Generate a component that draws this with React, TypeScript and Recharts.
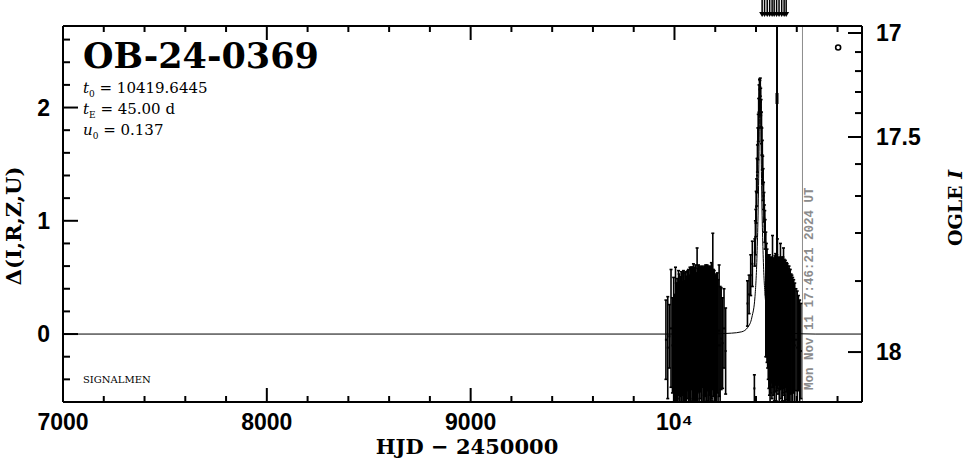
import React from 'react';
import { ComposedChart, XAxis, YAxis, Scatter, Line, ErrorBar, ReferenceLine } from 'recharts';

const W = 966;
const H = 459;
const MARGIN = { top: 25, right: 103, bottom: 56, left: 62 };
const X_DOMAIN: [number, number] = [7000, 10920];
const Y_DOMAIN: [number, number] = [-0.6, 2.72];

// ticks
const xTicks = [7000, 7200, 7400, 7600, 7800, 8000, 8200, 8400, 8600, 8800, 9000, 9200, 9400, 9600, 9800, 10000, 10200, 10400, 10600, 10800];
const xMajor = [7000, 8000, 9000, 10000];
const xLabels = ['7000', '8000', '9000', '10⁴'];
const yTicks = [-0.4, -0.2, 0, 0.2, 0.4, 0.6, 0.8, 1, 1.2, 1.4, 1.6, 1.8, 2, 2.2, 2.4, 2.6];
const yMajor = [0, 1, 2];
const yLabels = ['0', '1', '2'];
const magValues = [17, 17.1, 17.2, 17.3, 17.4, 17.5, 17.6, 17.7, 17.8, 17.9, 18];
const magTickPos = [2.658, 2.49, 2.322, 2.137, 1.951, 1.74, 1.501, 1.219, 0.892, 0.468, -0.159];
const magMajor = [17, 17.5, 18];
const magLabels = ['17', '17.5', '18'];

// 2023 season
const s1T = [9958, 9967, 9975, 9983, 9990, 9996, 10001, 10005, 10009, 10013,
  10016, 10020, 10023, 10027, 10030, 10034, 10037, 10041, 10044, 10048,
  10051, 10055, 10058, 10062, 10065, 10069, 10072, 10076, 10079, 10083,
  10086, 10090, 10093, 10097, 10100, 10104, 10107, 10111, 10114, 10118,
  10121, 10125, 10128, 10132, 10135, 10139, 10142, 10146, 10149, 10153,
  10156, 10160, 10163, 10167, 10170, 10174, 10177, 10181, 10184, 10188,
  10191, 10195, 10198, 10202, 10206, 10210, 10214, 10219, 10224, 10229,
  10236, 10243, 10251];
const s1D = [-0.05, -0.12, -0.02, 0.05, -0.10, -0.05, -0.15, -0.01, -0.11, -0.04,
  -0.13, 0.01, -0.07, -0.12, -0.02, -0.05, -0.10, 0.00, -0.06, -0.11,
  0.02, -0.03, -0.09, -0.01, 0.03, -0.04, -0.12, 0.01, -0.02, 0.05,
  -0.05, 0.00, 0.02, -0.03, 0.03, -0.01, -0.09, 0.12, -0.02, 0.05,
  -0.04, 0.01, 0.04, -0.03, 0.00, 0.06, -0.05, 0.02, -0.01, 0.03,
  -0.04, 0.01, 0.05, -0.02, 0.02, 0.00, -0.03, 0.03, -0.01, 0.20,
  0.01, -0.04, -0.09, -0.02, -0.07, 0.01, -0.10, 0.03, -0.10, -0.04,
  -0.08, 0.05, -0.15];
const s1E = [0.35, 0.45, 0.28, 0.52, 0.42, 0.55, 0.50, 0.60, 0.56, 0.53,
  0.58, 0.55, 0.60, 0.58, 0.53, 0.60, 0.56, 0.54, 0.62, 0.58,
  0.52, 0.58, 0.60, 0.56, 0.53, 0.61, 0.64, 0.58, 0.60, 0.54,
  0.64, 0.59, 0.60, 0.61, 0.56, 0.62, 0.63, 0.64, 0.60, 0.56,
  0.64, 0.58, 0.55, 0.62, 0.60, 0.53, 0.64, 0.56, 0.61, 0.58,
  0.63, 0.60, 0.55, 0.61, 0.56, 0.60, 0.62, 0.60, 0.58, 0.69,
  0.56, 0.60, 0.58, 0.54, 0.60, 0.53, 0.58, 0.58, 0.52, 0.45,
  0.40, 0.35, 0.38];

// 2024 season (rise, peak and decline)
const s2T = [10358, 10366, 10374, 10382, 10392,
  10394, 10397, 10399, 10401, 10403, 10405, 10407, 10409, 10411, 10413,
  10415, 10417, 10419, 10421, 10423, 10425, 10427, 10429, 10431, 10433,
  10435, 10437, 10439, 10441, 10443, 10445,
  10448, 10451, 10454, 10457, 10460, 10463, 10466, 10469, 10472, 10475,
  10478, 10481, 10484, 10487, 10490, 10493, 10496, 10499, 10502, 10505,
  10508, 10511, 10514, 10517, 10520, 10523, 10526, 10529, 10532, 10535,
  10538, 10541, 10544, 10547, 10550, 10553, 10556, 10559, 10562, 10565,
  10568, 10572, 10576, 10580, 10585, 10590, 10596, 10602, 10608, 10614, 10620];
const s2D = [0.27, 0.35, 0.52, 0.62, -0.48,
  0.72, 0.85, 0.98, 1.12, 1.25, 1.40, 1.55, 1.68, 1.82, 1.95,
  2.08, 2.16, 2.12, 2.18, 2.05, 1.95, 1.82, 1.70, 1.58, 1.45,
  1.32, 1.22, 1.12, 1.02, 0.95, 0.88,
  0.35, 0.30, 0.25, 0.20, 0.15, 0.10, 0.08, 0.03, 0.08, 0.12,
  0.05, 0.20, 0.06, 0.10, 0.04, 0.09, 0.13, 0.05, 0.10, 0.18,
  0.07, 0.11, 0.03, 0.09, 0.16, 0.05, 0.10, 0.04, 0.08, 0.14,
  0.06, 0.03, 0.09, 0.02, 0.06, 0.00, 0.05, -0.02, 0.04, -0.03,
  0.02, -0.05, 0.00, -0.06, -0.02, -0.10, -0.05, -0.12, -0.08, -0.20, -0.15];
const s2E = [0.20, 0.17, 0.18, 0.20, 0.12,
  0.12, 0.15, 0.12, 0.14, 0.12, 0.15, 0.12, 0.14, 0.12, 0.13,
  0.12, 0.09, 0.12, 0.08, 0.12, 0.12, 0.14, 0.12, 0.13, 0.12,
  0.14, 0.12, 0.13, 0.12, 0.14, 0.13,
  0.55, 0.50, 0.50, 0.50, 0.55, 0.58, 0.62, 0.64, 0.60, 0.55,
  0.62, 0.67, 0.60, 0.57, 0.63, 0.60, 0.58, 0.64, 0.60, 0.66,
  0.60, 0.56, 0.65, 0.58, 0.64, 0.62, 0.58, 0.63, 0.60, 0.62,
  0.60, 0.62, 0.56, 0.60, 0.57, 0.62, 0.55, 0.60, 0.56, 0.60,
  0.55, 0.58, 0.52, 0.56, 0.50, 0.55, 0.45, 0.50, 0.42, 0.50, 0.42];

// outlier with a very large error bar
const bigT = [10503];
const bigD = [2.08];
const bigE = [1.45];

// off-scale points (arrows above the frame)
const arrowT = [10430, 10442, 10455, 10467, 10479, 10489, 10501, 10513, 10526, 10538, 10548];
const arrowD = [2.72, 2.72, 2.72, 2.72, 2.72, 2.72, 2.72, 2.72, 2.72, 2.72, 2.72];

// OGLE marker
const markT = [10803];
const markD = [2.53];

// model light curve
const modelT = [7000, 10150, 10280, 10330, 10360, 10380, 10395, 10405, 10410, 10414, 10417, 10420,
  10423, 10426, 10430, 10435, 10445, 10460, 10480, 10510, 10560, 10690, 10920];
const modelD = [0, 0, 0.008, 0.02, 0.06, 0.15, 0.33, 0.7, 1.05, 1.5, 1.95, 2.2,
  1.95, 1.5, 1.05, 0.7, 0.33, 0.15, 0.06, 0.02, 0.008, 0, 0];

const nowHJD = 10628;

const season1 = s1T.map((t, i) => ({ t, d: s1D[i], e: s1E[i] }));
const season2 = s2T.map((t, i) => ({ t, d: s2D[i], e: s2E[i] }));
const bigPts = bigT.map((t, i) => ({ t, d: bigD[i], e: bigE[i] }));
const arrows = arrowT.map((t, i) => ({ t, d: arrowD[i] }));
const marks = markT.map((t, i) => ({ t, d: markD[i] }));
const model = modelT.map((t, i) => ({ t, d: modelD[i] }));

const AXIS_LINE = { stroke: '#000', strokeWidth: 2 };
const TICK_FONT = { fontFamily: 'Liberation Sans, Arial, sans-serif', fontWeight: 'bold' as const, fontSize: 23, fill: '#000' };
const SERIF = 'DejaVu Serif, serif';
const CLIP = 'url(#plotAreaClip)';

const isMajor = (list: number[], v: number) => list.findIndex((m) => Math.abs(m - v) < 1e-6);

const XTickBottom = (p: any) => {
  const v = p.payload.value;
  const i = isMajor(xMajor, v);
  return (
    <g>
      <line x1={p.x} x2={p.x} y1={p.y} y2={p.y - (i >= 0 ? 14 : 6)} stroke="#000" strokeWidth={2} />
      {i >= 0 && (
        <text x={p.x} y={p.y + 28} textAnchor="middle" {...TICK_FONT}>{xLabels[i]}</text>
      )}
    </g>
  );
};

const XTickTop = (p: any) => {
  const v = p.payload.value;
  const i = isMajor(xMajor, v);
  return <line x1={p.x} x2={p.x} y1={p.y} y2={p.y + (i >= 0 ? 14 : 6)} stroke="#000" strokeWidth={2} />;
};

const YTickLeft = (p: any) => {
  const v = p.payload.value;
  const i = isMajor(yMajor, v);
  return (
    <g>
      <line x1={p.x} x2={p.x + (i >= 0 ? 15 : 7)} y1={p.y} y2={p.y} stroke="#000" strokeWidth={2} />
      {i >= 0 && (
        <text x={p.x - 13} y={p.y + 8} textAnchor="end" {...TICK_FONT}>{yLabels[i]}</text>
      )}
    </g>
  );
};

const YTickRight = (p: any) => {
  const v = p.payload.value;
  const k = isMajor(magTickPos, v);
  const mag = k >= 0 ? magValues[k] : NaN;
  const i = isMajor(magMajor, mag);
  return (
    <g>
      <line x1={p.x} x2={p.x - (i >= 0 ? 14 : 7)} y1={p.y} y2={p.y} stroke="#000" strokeWidth={2} />
      {i >= 0 && (
        <text x={p.x + 14} y={p.y + 8} textAnchor="start" {...TICK_FONT}>{magLabels[i]}</text>
      )}
    </g>
  );
};

const DotShape = (p: any) => <rect x={p.cx - 1} y={p.cy - 1} width={2} height={2} fill="#000" />;
const BigShape = (p: any) => <rect x={p.cx - 1.5} y={p.cy - 5.5} width={3} height={11} fill="#000" />;
const ArrowShape = (p: any) => (
  <g>
    <line x1={p.cx} x2={p.cx} y1={p.cy - 26} y2={p.cy - 11} stroke="#000" strokeWidth={1.5} />
    <path d={`M${p.cx - 3},${p.cy - 14}L${p.cx + 3},${p.cy - 14}L${p.cx},${p.cy - 9}Z`} fill="#000" />
  </g>
);
const RingShape = (p: any) => <circle cx={p.cx} cy={p.cy} r={2.5} fill="#fff" stroke="#000" strokeWidth={1.6} />;

export default function App() {
  return (
    <div style={{ position: 'absolute', left: 0, top: 0, width: W, height: H, background: '#fff' }}>
      <svg width={0} height={0} style={{ position: 'absolute' }}>
        <defs>
          <clipPath id="plotAreaClip" clipPathUnits="userSpaceOnUse">
            <rect x={63} y={26} width={799} height={376} />
          </clipPath>
        </defs>
      </svg>
      <ComposedChart width={W} height={H} margin={MARGIN}>
        <XAxis xAxisId="main" dataKey="t" type="number" domain={X_DOMAIN} allowDataOverflow ticks={xTicks}
          interval={0} tick={XTickBottom} tickLine={false} tickSize={0} tickMargin={0} height={1} axisLine={AXIS_LINE} />
        <XAxis xAxisId="top" orientation="top" dataKey="t" type="number" domain={X_DOMAIN} ticks={xTicks}
          interval={0} tick={XTickTop} tickLine={false} tickSize={0} tickMargin={0} height={1} axisLine={AXIS_LINE} />
        <YAxis yAxisId="main" dataKey="d" type="number" domain={Y_DOMAIN} allowDataOverflow ticks={yTicks}
          interval={0} tick={YTickLeft} tickLine={false} tickSize={0} tickMargin={0} width={1} axisLine={AXIS_LINE} />
        <YAxis yAxisId="mag" orientation="right" dataKey="d" type="number" domain={Y_DOMAIN} ticks={magTickPos}
          interval={0} tick={YTickRight} tickLine={false} tickSize={0} tickMargin={0} width={1} axisLine={AXIS_LINE} />

        <ReferenceLine xAxisId="main" yAxisId="main" x={nowHJD} stroke="#8c8c8c" strokeWidth={1} />

        <Line xAxisId="main" yAxisId="main" data={model} dataKey="d" type="monotone" stroke="#000"
          strokeWidth={1} dot={false} activeDot={false} isAnimationActive={false} />

        <Scatter xAxisId="main" yAxisId="main" data={season1} dataKey="d" shape={DotShape} isAnimationActive={false}>
          <ErrorBar dataKey="e" direction="y" width={1.5} stroke="#000" strokeWidth={1.6} clipPath={CLIP} isAnimationActive={false} />
        </Scatter>
        <Scatter xAxisId="main" yAxisId="main" data={season2} dataKey="d" shape={DotShape} isAnimationActive={false}>
          <ErrorBar dataKey="e" direction="y" width={1.5} stroke="#000" strokeWidth={1.6} clipPath={CLIP} isAnimationActive={false} />
        </Scatter>
        <Scatter xAxisId="main" yAxisId="main" data={bigPts} dataKey="d" shape={BigShape} isAnimationActive={false}>
          <ErrorBar dataKey="e" direction="y" width={0} stroke="#000" strokeWidth={2} clipPath={CLIP} isAnimationActive={false} />
        </Scatter>
        <Scatter xAxisId="main" yAxisId="mag" data={marks} dataKey="d" shape={RingShape} isAnimationActive={false} />
        <Scatter xAxisId="top" yAxisId="mag" data={arrows} dataKey="d" shape={ArrowShape} isAnimationActive={false} />
      </ComposedChart>

      <svg width={W} height={H} style={{ position: 'absolute', left: 0, top: 0, pointerEvents: 'none' }}>
        <text x={83} y={68} fontFamily={SERIF} fontWeight="bold" fontSize={35} fill="#000">OB-24-0369</text>
        <text x={83} y={93} fontFamily={SERIF} fontSize={15} fill="#000">
          <tspan fontStyle="italic">t</tspan><tspan fontSize={9} dy={4}>0</tspan><tspan dy={-4}> = 10419.6445</tspan>
        </text>
        <text x={83} y={114} fontFamily={SERIF} fontSize={15} fill="#000">
          <tspan fontStyle="italic">t</tspan><tspan fontSize={9} dy={4}>E</tspan><tspan dy={-4}> = 45.00 d</tspan>
        </text>
        <text x={83} y={135} fontFamily={SERIF} fontSize={15} fill="#000">
          <tspan fontStyle="italic">u</tspan><tspan fontSize={9} dy={4}>0</tspan><tspan dy={-4}> = 0.137</tspan>
        </text>
        <text x={83} y={383} fontFamily={SERIF} fontSize={10} fill="#000">SIGNALMEN</text>
        <text x={467} y={454} textAnchor="middle" fontFamily={SERIF} fontWeight="bold" fontSize={21} fill="#000">HJD − 2450000</text>
        <text x={21} y={226} transform="rotate(-90 21 226)" textAnchor="middle" fontFamily={SERIF} fontWeight="bold" fontSize={21} fill="#000">Δ(I,R,Z,U)</text>
        <text x={962} y={208} transform="rotate(-90 962 208)" textAnchor="middle" fontFamily={SERIF} fontWeight="bold" fontSize={19} fill="#000">
          OGLE <tspan fontStyle="italic">I</tspan>
        </text>
        <text x={813} y={390} transform="rotate(-90 813 390)" textAnchor="start" fontFamily="Liberation Mono, monospace" fontWeight="bold" fontSize={12.5} fill="#8c8c8c">Mon Nov 11 17:46:21 2024 UT</text>
      </svg>
    </div>
  );
}
